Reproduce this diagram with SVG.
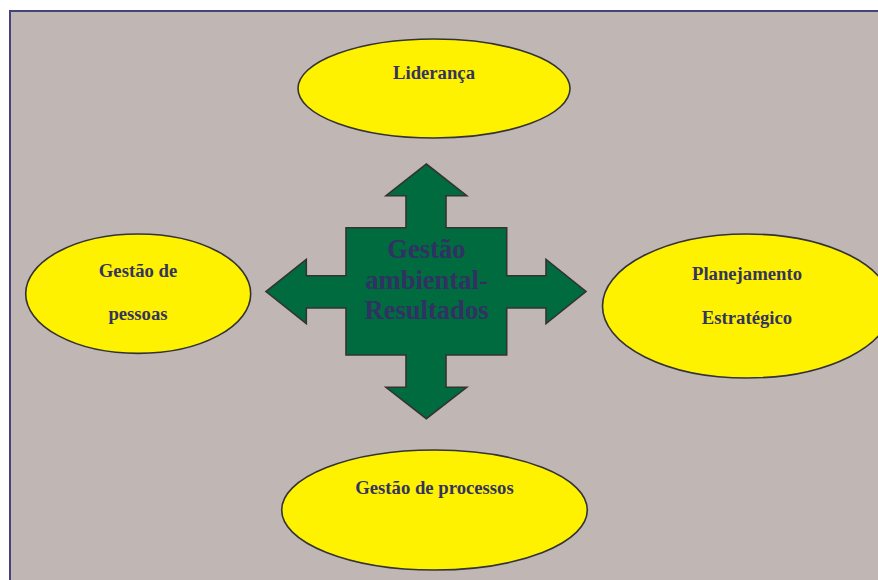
<svg xmlns="http://www.w3.org/2000/svg" width="878" height="580" viewBox="0 0 878 580">
  <style>
    .bubble { fill: #FFF200; stroke: #333333; stroke-width: 1.6; }
    .label { font-family: "Liberation Serif", "Times New Roman", serif; font-weight: bold; font-size: 18.7px; fill: #34345C; text-anchor: middle; }
    .core { font-family: "Liberation Serif", "Times New Roman", serif; font-weight: bold; font-size: 26.6px; fill: #313163; text-anchor: middle; }
  </style>
  <!-- page -->
  <rect x="0" y="0" width="878" height="580" fill="#FFFFFF"/>
  <rect x="10" y="11" width="890" height="600" fill="#C0B7B4" stroke="#44447A" stroke-width="2"/>

  <!-- central four-way arrow -->
  <g id="center">
    <path d="M426.3,164 L466.7,195.7 L446,195.7 L446,227.7 L506.7,227.7 L506.7,275.7 L546,275.7 L546,259.3 L586,291.5 L546,323.7 L546,308 L506.7,308 L506.7,355 L446,355 L446,387.3 L466.7,387.3 L426.3,418.7 L386,387.3 L406,387.3 L406,355 L346,355 L346,308 L306.3,308 L306.3,323.7 L266,291.5 L306.3,259.3 L306.3,275.7 L346,275.7 L346,227.7 L406,227.7 L406,195.7 L386,195.7 Z" fill="#006B3F" stroke="#333333" stroke-width="1.6" stroke-linejoin="miter"/>
    <text class="core" x="426.5" y="258">Gestão</text>
    <text class="core" x="426.5" y="288.5">ambiental-</text>
    <text class="core" x="426.5" y="319">Resultados</text>
  </g>

  <g id="lideranca">
    <ellipse class="bubble" cx="434" cy="88.5" rx="136" ry="49.5"/>
    <text class="label" x="434" y="79">Liderança</text>
  </g>

  <g id="gestao-pessoas">
    <ellipse class="bubble" cx="138.2" cy="293.7" rx="112.5" ry="59.7"/>
    <text class="label" x="138" y="277">Gestão de</text>
    <text class="label" x="138" y="320">pessoas</text>
  </g>

  <g id="planejamento">
    <ellipse class="bubble" cx="747" cy="306" rx="144.5" ry="72"/>
    <text class="label" x="747" y="280">Planejamento</text>
    <text class="label" x="747" y="324">Estratégico</text>
  </g>

  <g id="gestao-processos">
    <ellipse class="bubble" cx="434.5" cy="510" rx="152.8" ry="60"/>
    <text class="label" x="434.5" y="493.5">Gestão de processos</text>
  </g>
</svg>
